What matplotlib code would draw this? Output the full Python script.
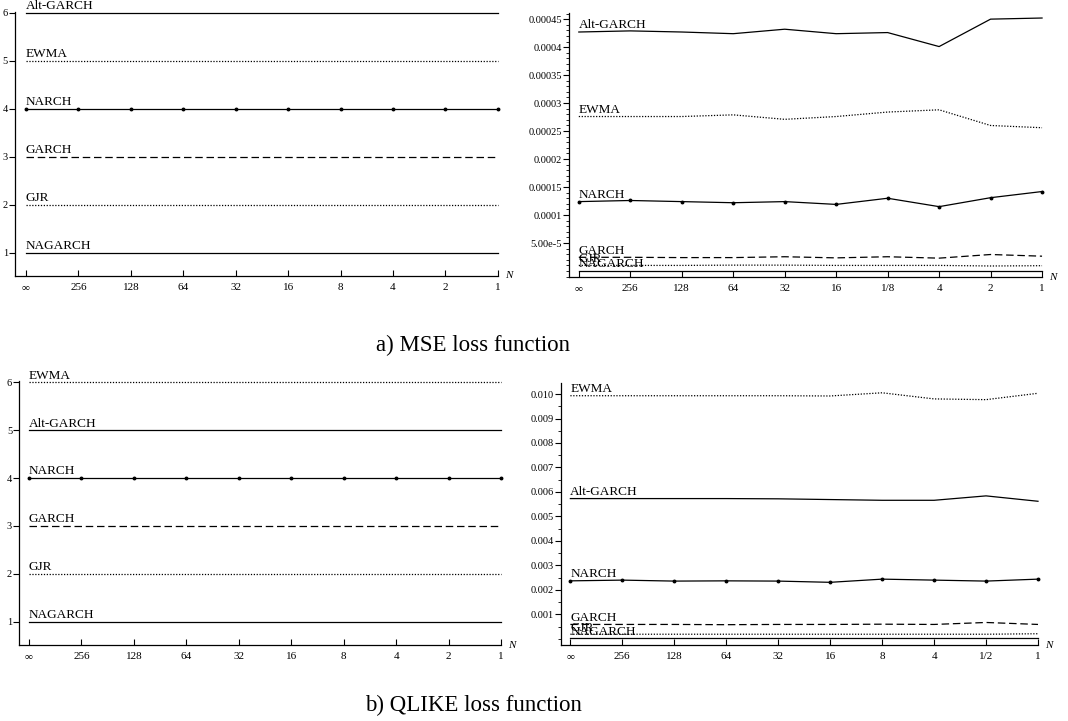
import numpy as np
import matplotlib.pyplot as plt
from matplotlib.ticker import MultipleLocator

plt.rcParams['font.family'] = ['Liberation Serif', 'DejaVu Serif']

# x positions (N) and the tick labels as printed in the source
x = np.arange(10)
xlab_mse = ['\u221e', '256', '128', '64', '32', '16', '1/8', '4', '2', '1']
xlab_qlike = ['\u221e', '256', '128', '64', '32', '16', '8', '4', '1/2', '1']
xlab_rank = ['\u221e', '256', '128', '64', '32', '16', '8', '4', '2', '1']

models = ['Alt-GARCH', 'EWMA', 'NARCH', 'GARCH', 'GJR', 'NAGARCH']

# ranking panels (left)
rank_mse = {
    'Alt-GARCH': [6, 6, 6, 6, 6, 6, 6, 6, 6, 6],
    'EWMA':      [5, 5, 5, 5, 5, 5, 5, 5, 5, 5],
    'NARCH':     [4, 4, 4, 4, 4, 4, 4, 4, 4, 4],
    'GARCH':     [3, 3, 3, 3, 3, 3, 3, 3, 3, 3],
    'GJR':       [2, 2, 2, 2, 2, 2, 2, 2, 2, 2],
    'NAGARCH':   [1, 1, 1, 1, 1, 1, 1, 1, 1, 1],
}
rank_qlike = {
    'EWMA':      [6, 6, 6, 6, 6, 6, 6, 6, 6, 6],
    'Alt-GARCH': [5, 5, 5, 5, 5, 5, 5, 5, 5, 5],
    'NARCH':     [4, 4, 4, 4, 4, 4, 4, 4, 4, 4],
    'GARCH':     [3, 3, 3, 3, 3, 3, 3, 3, 3, 3],
    'GJR':       [2, 2, 2, 2, 2, 2, 2, 2, 2, 2],
    'NAGARCH':   [1, 1, 1, 1, 1, 1, 1, 1, 1, 1],
}

# loss values (right)
mse = {
    'Alt-GARCH': [0.000427, 0.000429, 0.000427, 0.000424, 0.000432, 0.000424, 0.000426, 0.000401, 0.000450, 0.000452],
    'EWMA':      [0.000276, 0.000276, 0.000276, 0.000279, 0.000271, 0.000276, 0.000284, 0.000288, 0.000260, 0.000256],
    'NARCH':     [0.000124, 0.000126, 0.000124, 0.000122, 0.000124, 0.000119, 0.000130, 0.000115, 0.000131, 0.000142],
    'GARCH':     [2.45e-5, 2.45e-5, 2.4e-5, 2.4e-5, 2.55e-5, 2.35e-5, 2.55e-5, 2.3e-5, 2.95e-5, 2.65e-5],
    'GJR':       [1.0e-5, 1.0e-5, 1.0e-5, 1.05e-5, 1.05e-5, 1.0e-5, 1.0e-5, 1.0e-5, 0.9e-5, 0.95e-5],
    'NAGARCH':   [0.2e-6, 0.2e-6, 0.2e-6, 0.2e-6, 0.2e-6, 0.2e-6, 0.2e-6, 0.2e-6, 0.2e-6, 0.2e-6],
}
qlike = {
    'EWMA':      [0.00993, 0.00993, 0.00993, 0.00993, 0.00993, 0.00992, 0.01005, 0.00980, 0.00977, 0.01003],
    'Alt-GARCH': [0.00573, 0.00573, 0.00573, 0.00573, 0.00572, 0.00569, 0.00566, 0.00566, 0.00584, 0.00562],
    'NARCH':     [0.00237, 0.00240, 0.00236, 0.00237, 0.00236, 0.00231, 0.00244, 0.00240, 0.00236, 0.00244],
    'GARCH':     [0.00059, 0.00059, 0.00059, 0.00058, 0.00059, 0.00059, 0.00060, 0.00059, 0.00067, 0.00059],
    'GJR':       [0.00019, 0.00019, 0.00019, 0.00019, 0.00019, 0.00019, 0.00019, 0.00019, 0.00019, 0.00021],
    'NAGARCH':   [0.00002, 0.00002, 0.00002, 0.00002, 0.00002, 0.00002, 0.00002, 0.00002, 0.00002, 0.00002],
}

styles = {
    'Alt-GARCH': dict(ls='-'),
    'EWMA':      dict(ls=(0, (1, 1.3))),
    'NARCH':     dict(ls='-', marker='o', ms=1.8),
    'GARCH':     dict(ls=(0, (6, 3))),
    'GJR':       dict(ls=(0, (1, 1.3))),
    'NAGARCH':   dict(ls='-'),
}


def draw(ax, data, xlabels, xmin):
    for m in models:
        y = data[m]
        ax.plot(x, y, color='black', lw=0.9, clip_on=False, **styles[m])
        ax.annotate(m, (x[0], y[0]), xytext=(0, 0.5), textcoords='offset points',
                    ha='left', va='bottom', fontsize=9.5)
    ax.set_xlim(xmin, 9)
    ax.set_xticks(x)
    ax.set_xticklabels(xlabels)
    for s in ['top', 'right']:
        ax.spines[s].set_visible(False)
    ax.spines['left'].set_linewidth(0.9)
    ax.spines['bottom'].set_linewidth(0.9)
    ax.tick_params(axis='x', direction='in', length=4, width=0.8, pad=5, labelsize=8)
    ax.tick_params(axis='y', which='major', direction='out', length=4, width=0.8, pad=1, labelsize=7.5)
    ax.tick_params(axis='y', which='minor', direction='out', length=2, width=0.6)
    ax.text(1.015, 0.0, 'N', transform=ax.transAxes, fontsize=8, style='italic',
            ha='left', va='center')


fig = plt.figure(figsize=(10.68, 7.21), dpi=100)

ax1 = fig.add_axes([0.0140, 0.6172, 0.4522, 0.3662])
draw(ax1, rank_mse, xlab_rank, -0.21)
ax1.set_ylim(0.52, 6.02)
ax1.set_yticks([1, 2, 3, 4, 5, 6])

ax2 = fig.add_axes([0.5328, 0.6158, 0.4429, 0.3662])
draw(ax2, mse, xlab_mse, -0.19)
ax2.set_ylim(-1.07e-5, 0.000461)
ax2.set_yticks([5e-5, 1e-4, 1.5e-4, 2e-4, 2.5e-4, 3e-4, 3.5e-4, 4e-4, 4.5e-4])
ax2.set_yticklabels(['5.00e-5', '0.0001', '0.00015', '0.0002', '0.00025',
                     '0.0003', '0.00035', '0.0004', '0.00045'])
ax2.yaxis.set_minor_locator(MultipleLocator(1e-5))

ax3 = fig.add_axes([0.0178, 0.1054, 0.4513, 0.3662])
draw(ax3, rank_qlike, xlab_rank, -0.19)
ax3.set_ylim(0.51, 6.03)
ax3.set_yticks([1, 2, 3, 4, 5, 6])

ax4 = fig.add_axes([0.5253, 0.1054, 0.4466, 0.3634])
draw(ax4, qlike, xlab_qlike, -0.18)
ax4.set_ylim(-0.00025, 0.01045)
ax4.set_yticks(np.arange(1, 11) * 0.001)
ax4.set_yticklabels(['%.3f' % v for v in np.arange(1, 11) * 0.001])
ax4.yaxis.set_minor_locator(MultipleLocator(0.0005))

fig.text(0.443, 0.5215, 'a) MSE loss function', ha='center', va='center', fontsize=16.5)
fig.text(0.443, 0.021, 'b) QLIKE loss function', ha='center', va='center', fontsize=16.5)

fig.savefig('out.png', dpi=100)
